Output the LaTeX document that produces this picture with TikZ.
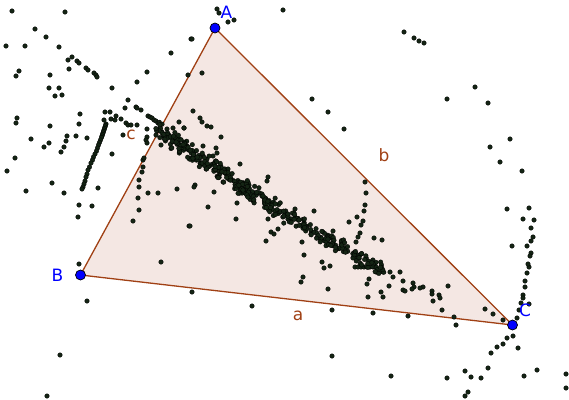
\documentclass[tikz,border=0pt]{standalone}
\usepackage{fontspec}
\setmainfont{DejaVu Sans}
\usetikzlibrary{positioning}

\definecolor{triFill}{RGB}{244,231,227}
\definecolor{triEdge}{RGB}{160,64,20}
\definecolor{ptFill}{RGB}{20,36,20}
\definecolor{vtxBlue}{RGB}{0,0,255}

\tikzset{
    pt/.style={fill=ptFill,draw=black,line width=0.3pt},
    vtx/.style={fill=vtxBlue,draw=black,line width=0.7pt},
    vlab/.style={text=vtxBlue,inner sep=0pt,font=\fontsize{17}{19}\selectfont},
    elab/.style={text=triEdge,inner sep=0pt,font=\fontsize{17}{19}\selectfont},
}

\begin{document}
\begin{tikzpicture}[x=1pt, y=-1pt]
    \useasboundingbox (0,0) rectangle (569,399);

    \coordinate (A) at (215,28);
    \coordinate (B) at (80.5,275);
    \coordinate (C) at (512.5,325);

    % triangle
    \draw[fill=triFill, draw=triEdge, line width=1.3pt, line join=round] (A) -- (B) -- (C) -- cycle;

    % scattered points
    \foreach \x/\y in {12/11,65/12,35/29,46/37,6/46,25/46,59/47,72/57,68/60,77/61,79/63,69/69,86/68,88/70,
        94/73,96/75,97/77,19/71,16/76,50/75,49/88,59/88,55/96,62/95,112/88,147/72,137/82,171/53,191/39,
        188/75,193/111,128/100,125/108,136/107,137/108,141/110,105/112,110/112,116/116,111/119,104/120,
        115/120,121/119,126/123,128/125,131/125,137/125,147/129,80/114,79/124,50/126,17/118,16/123,
        76/136,67/136,87/138,31/139,148/116,150/117,152/118,154/120,156/121,158/123,147/137,123/135,
        49/143,44/147,66/141,64/147,61/152,15/158,7/171,26/191,52/183,64/193,98/188,112/154,79/205,
        92/206,78/217,79/264,146/140,147/143,143/160,143/167,142/172,139/180,139/187,138/198,139/210,
        133/221,148/193,158/193,177/189,195/185,194/187,189/226,161/262,161/145,144/158,156/135,
        160/128,167/129,173/128,179/122,184/128,217/9,219/13,228/22,234/20,283/10,192/39,202/73,
        200/118,202/122,207/126,211/127,184/128,221/137,312/99,328/112,344/129,404/32,414/38,419/41,
        424/43,475/87,447/99,488/103,510/139,490/147,500/162,522/171,507/209,529/208,523/219,534/220,
        531/228,533/237,531/241,512/246,527/246,531/253,530/256,529/267,374/238,382/240,203/146,
        216/148,217/153,213/156,240/164,228/169,268/177,267/181,214/192,208/207,236/219,190/226,
        237/203,266/199,268/219,278/229,271/232,274/234,266/241,295/209,295/217,314/211,333/231,
        304/255,302/242,322/262,324/268,330/266,301/282,303/277,328/289,365/182,366/193,365/205,
        364/211,357/217,349/222,363/221,361/225,360/233,358/237,356/242,355/267,358/267,361/267,
        364/267,367/267,370/267,373/267,376/267,390/272,393/277,403/281,413/283,423/287,403/290,
        389/286,381/292,383/297,368/297,367/284,369/279,400/272,405/291,414/287,412/289,420/288,
        432/291,432/294,433/301,439/295,440/298,448/286,442/310,454/317,456/325,408/316,485/309,
        493/314,503/320,373/313,332/310,527/273,528/264,525/281,525/287,523/295,523/298,521/303,
        519/310,517/318,529/304,513/336,507/338,503/344,497/347,491/353,518/348,488/368,465/371,
        471/377,481/378,447/378,524/376,537/370,566/374,566/388,468/392,465/396,391/376,192/292,
        252/306,332/356,87/301,60/355,47/396}
        \draw[pt] (\x,\y) circle (2.3pt);

    % arc of points left of c
    \foreach \x/\y in {106/124,105.5/125.5,105/127,104.5/128.5,104/130,103.5/131.5,103/133,102.5/134.5,
        102/136,101.5/137.5,100.5/140,99.5/142.5,98.5/145,97.5/148,96.5/151,95/154,93.5/157,92.5/160,
        91/163,89.5/167,88/170,87/174,86/177,85/181,84/184,83/187,82/189}
        \draw[pt] (\x,\y) circle (2.3pt);

    % dense band
    \pgfmathsetseed{4711}
    \foreach \i in {1,...,250}{
        \pgfmathsetmacro\t{rnd}
        \pgfmathsetmacro\n{9*(rand+rand)/2}
        \draw[pt] ({155+125*\t-0.56*\n},{128+84*\t+0.83*\n}) circle (2.3pt);
    }
    \foreach \i in {1,...,140}{
        \pgfmathsetmacro\t{rnd}
        \pgfmathsetmacro\n{8*(rand+rand)/2}
        \draw[pt] ({280+105*\t-0.5*\n},{212+60*\t+0.87*\n}) circle (2.3pt);
    }

    % vertices
    \draw[vtx] (A) circle (5pt);
    \draw[vtx] (B) circle (5pt);
    \draw[vtx] (C) circle (5pt);

    % labels
    \node[vlab, above right=9pt and 5.5pt of A] (labA) {A};
    \node[vlab, left=17pt of B] (labB) {B};
    \node[vlab, above right=8pt and 6.5pt of C] (labC) {C};
    \node[elab] (laba) at (298,316) {a};
    \node[elab] (labb) at (384,155) {b};
    \node[elab] (labc) at (131,135) {c};
\end{tikzpicture}
\end{document}
